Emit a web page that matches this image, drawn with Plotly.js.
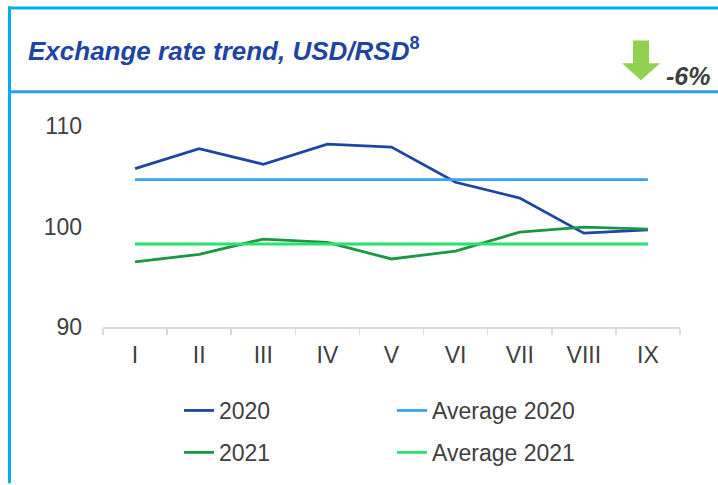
<!DOCTYPE html>
<html>
<head>
<meta charset="utf-8">
<script src="https://cdn.plot.ly/plotly-3.0.1.min.js"></script>
<style>
  html, body { margin: 0; padding: 0; background: #ffffff; }
  #chart { width: 718px; height: 485px; }
</style>
</head>
<body>
<div id="chart"></div>
<script>
// ---- Data ----
const months = ["I", "II", "III", "IV", "V", "VI", "VII", "VIII", "IX"];
const rate2020 = [105.76, 107.74, 106.19, 108.2, 107.9, 104.4, 102.83, 99.34, 99.66];
const rate2021 = [96.47, 97.23, 98.75, 98.42, 96.77, 97.56, 99.44, 99.93, 99.73];
const avg2020 = [104.67, 104.67, 104.67, 104.67, 104.67, 104.67, 104.67, 104.67, 104.67];
const avg2021 = [98.26, 98.26, 98.26, 98.26, 98.26, 98.26, 98.26, 98.26, 98.26];
const yTicks = [90, 100, 110];
const titleText = "Exchange rate trend, USD/RSD";
const titleNote = "8";
const changeText = "-6%";

// ---- Layout geometry (pixels) ----
const W = 718, H = 485;
const L = 103, R = 38, T = 126, B = 157;
const PW = W - L - R, PH = H - T - B;
const px = x => (x - L) / PW;           // pixel x -> paper x
const py = y => (H - B - y) / PH;       // pixel y -> paper y

const FONT = "Liberation Sans, Arial, sans-serif";
const TXT = "#404040";

const traces = [
  { x: months, y: rate2020, name: "2020", type: "scatter", mode: "lines",
    line: { color: "#1F45A3", width: 2.8 }, legend: "legend", legendgroup: "a", legendrank: 1 },
  { x: months, y: rate2021, name: "2021", type: "scatter", mode: "lines",
    line: { color: "#1B9643", width: 2.8 }, legend: "legend", legendgroup: "b", legendrank: 2 },
  { x: months, y: avg2020, name: "Average 2020", type: "scatter", mode: "lines",
    line: { color: "#36A2F8", width: 2.8 }, legend: "legend2", legendgroup: "c", legendrank: 1 },
  { x: months, y: avg2021, name: "Average 2021", type: "scatter", mode: "lines",
    line: { color: "#27E26B", width: 2.8 }, legend: "legend2", legendgroup: "d", legendrank: 2 }
];

const legendCommon = {
  orientation: "v", xanchor: "left", yanchor: "top",
  font: { family: FONT, size: 23, color: TXT },
  bgcolor: "rgba(0,0,0,0)", borderwidth: 0, tracegroupgap: 9,
  traceorder: "grouped", itemclick: false, itemdoubleclick: false
};

const layout = {
  width: W, height: H,
  margin: { l: L, r: R, t: T, b: B, pad: 0 },
  paper_bgcolor: "#ffffff", plot_bgcolor: "#ffffff",
  font: { family: FONT, size: 23, color: TXT },
  showlegend: true,
  legend: Object.assign({}, legendCommon, { x: px(179), y: py(389) }),
  legend2: Object.assign({}, legendCommon, { x: px(392), y: py(389) }),
  xaxis: {
    type: "category", range: [-0.5, months.length - 0.5],
    tickson: "boundaries", ticks: "outside", ticklen: 6,
    tickwidth: 1.5, tickcolor: "#D9D9D9",
    showline: true, linecolor: "#D9D9D9", linewidth: 2,
    showgrid: false, zeroline: false, fixedrange: true,
    tickfont: { family: FONT, size: 23, color: TXT },
    ticklabelstandoff: 6
  },
  yaxis: {
    range: [90, 110], tickvals: yTicks, ticktext: yTicks.map(String),
    showgrid: false, zeroline: false, showline: false, ticks: "",
    tickfont: { family: FONT, size: 23, color: TXT },
    ticklabelstandoff: 20, fixedrange: true
  },
  shapes: [
    // frame: top, left, header separator
    { type: "line", xref: "paper", yref: "paper", x0: px(8), x1: px(718), y0: py(7.5), y1: py(7.5),
      line: { color: "#00AEEF", width: 3 } },
    { type: "line", xref: "paper", yref: "paper", x0: px(9.5), x1: px(9.5), y0: py(6), y1: py(485),
      line: { color: "#00AEEF", width: 3 } },
    { type: "line", xref: "paper", yref: "paper", x0: px(9), x1: px(718), y0: py(91.5), y1: py(91.5),
      line: { color: "#2A9DF4", width: 3 } },
    // green down arrow
    { type: "path", xref: "paper", yref: "paper",
      path: "M " + px(633) + "," + py(40) + " L " + px(649) + "," + py(40) +
            " L " + px(649) + "," + py(63) + " L " + px(660) + "," + py(63) +
            " L " + px(641) + "," + py(80) + " L " + px(622) + "," + py(63) +
            " L " + px(633) + "," + py(63) + " Z",
      fillcolor: "#92D050", line: { width: 0 } }
  ],
  annotations: [
    { text: "<b><i>" + titleText + "</i><sup>" + titleNote + "</sup></b>", xref: "paper", yref: "paper",
      x: px(26), y: py(49), xanchor: "left", yanchor: "middle", showarrow: false,
      font: { family: FONT, size: 26, color: "#1F45A3" } },
    { text: "<b><i>" + changeText + "</i></b>", xref: "paper", yref: "paper",
      x: px(712), y: py(76), xanchor: "right", yanchor: "middle", showarrow: false,
      font: { family: FONT, size: 25, color: TXT } }
  ]
};

Plotly.newPlot("chart", traces, layout, { displayModeBar: false, staticPlot: true });
</script>
</body>
</html>
